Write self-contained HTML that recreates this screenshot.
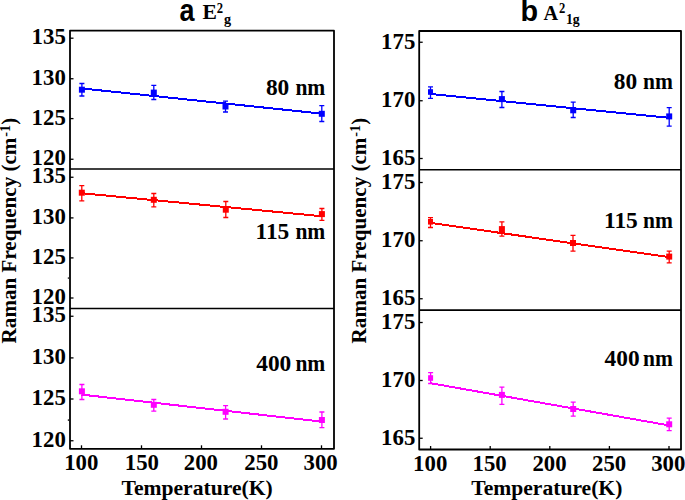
<!DOCTYPE html>
<html><head><meta charset="utf-8"><style>
html,body{margin:0;padding:0;background:#fff;width:685px;height:500px;overflow:hidden;}
svg{display:block;font-family:"Liberation Serif",serif;}
</style></head><body>
<svg width="685" height="500" viewBox="0 0 685 500">
<rect width="685" height="500" fill="#fff"/>
<line x1="81.5" y1="88.4" x2="321.5" y2="113.6" stroke="#0000ff" stroke-width="2" shape-rendering="crispEdges"/>
<path d="M81.9 83.5V96M79.4 83.5H84.4M79.4 96H84.4" stroke="#0000ff" stroke-width="1.3" fill="none"/>
<rect x="78.9" y="86.7" width="6" height="6" fill="#0000ff"/>
<path d="M153.8 85.4V99.5M151.3 85.4H156.3M151.3 99.5H156.3" stroke="#0000ff" stroke-width="1.3" fill="none"/>
<rect x="150.8" y="89.6" width="6" height="6" fill="#0000ff"/>
<path d="M225.5 101.2V112M223 101.2H228M223 112H228" stroke="#0000ff" stroke-width="1.3" fill="none"/>
<rect x="222.5" y="103.5" width="6" height="6" fill="#0000ff"/>
<path d="M321.8 105.6V121.5M319.3 105.6H324.3M319.3 121.5H324.3" stroke="#0000ff" stroke-width="1.3" fill="none"/>
<rect x="318.8" y="110.8" width="6" height="6" fill="#0000ff"/>
<line x1="81.5" y1="193.2" x2="321.5" y2="216.2" stroke="#ff0000" stroke-width="2" shape-rendering="crispEdges"/>
<path d="M81.8 185.6V200.8M79.3 185.6H84.3M79.3 200.8H84.3" stroke="#ff0000" stroke-width="1.3" fill="none"/>
<rect x="78.8" y="189.7" width="6" height="6" fill="#ff0000"/>
<path d="M153.8 193.5V206.9M151.3 193.5H156.3M151.3 206.9H156.3" stroke="#ff0000" stroke-width="1.3" fill="none"/>
<rect x="150.8" y="196.8" width="6" height="6" fill="#ff0000"/>
<path d="M225.8 201.5V217.5M223.3 201.5H228.3M223.3 217.5H228.3" stroke="#ff0000" stroke-width="1.3" fill="none"/>
<rect x="222.8" y="206.7" width="6" height="6" fill="#ff0000"/>
<path d="M321.9 208.5V220.4M319.4 208.5H324.4M319.4 220.4H324.4" stroke="#ff0000" stroke-width="1.3" fill="none"/>
<rect x="318.9" y="211.1" width="6" height="6" fill="#ff0000"/>
<line x1="81.5" y1="394.6" x2="321.5" y2="421.6" stroke="#ff00ff" stroke-width="2" shape-rendering="crispEdges"/>
<path d="M81.9 384.5V399.5M79.4 384.5H84.4M79.4 399.5H84.4" stroke="#ff00ff" stroke-width="1.3" fill="none"/>
<rect x="78.9" y="388.3" width="6" height="6" fill="#ff00ff"/>
<path d="M153.8 399.5V411.1M151.3 399.5H156.3M151.3 411.1H156.3" stroke="#ff00ff" stroke-width="1.3" fill="none"/>
<rect x="150.8" y="401.8" width="6" height="6" fill="#ff00ff"/>
<path d="M225.6 405.6V419M223.1 405.6H228.1M223.1 419H228.1" stroke="#ff00ff" stroke-width="1.3" fill="none"/>
<rect x="222.6" y="408.8" width="6" height="6" fill="#ff00ff"/>
<path d="M321.9 412V427.6M319.4 412H324.4M319.4 427.6H324.4" stroke="#ff00ff" stroke-width="1.3" fill="none"/>
<rect x="318.9" y="417" width="6" height="6" fill="#ff00ff"/>
<rect x="70" y="30.7" width="264" height="418.1" fill="none" stroke="#000" stroke-width="1.8" stroke-linejoin="round"/>
<line x1="70" y1="169" x2="334" y2="169" stroke="#000" stroke-width="1.6"/>
<line x1="70" y1="308.5" x2="334" y2="308.5" stroke="#000" stroke-width="1.6"/>
<line x1="70" y1="38.2" x2="73.5" y2="38.2" stroke="#000" stroke-width="1.3"/>
<line x1="70" y1="78.75" x2="73.5" y2="78.75" stroke="#000" stroke-width="1.3"/>
<line x1="70" y1="118.6" x2="73.5" y2="118.6" stroke="#000" stroke-width="1.3"/>
<line x1="70" y1="159.25" x2="73.5" y2="159.25" stroke="#000" stroke-width="1.3"/>
<line x1="70" y1="177.25" x2="73.5" y2="177.25" stroke="#000" stroke-width="1.3"/>
<line x1="70" y1="217.9" x2="73.5" y2="217.9" stroke="#000" stroke-width="1.3"/>
<line x1="70" y1="257.9" x2="73.5" y2="257.9" stroke="#000" stroke-width="1.3"/>
<line x1="70" y1="298" x2="73.5" y2="298" stroke="#000" stroke-width="1.3"/>
<line x1="70" y1="316.25" x2="73.5" y2="316.25" stroke="#000" stroke-width="1.3"/>
<line x1="70" y1="357.9" x2="73.5" y2="357.9" stroke="#000" stroke-width="1.3"/>
<line x1="70" y1="399" x2="73.5" y2="399" stroke="#000" stroke-width="1.3"/>
<line x1="70" y1="440.75" x2="73.5" y2="440.75" stroke="#000" stroke-width="1.3"/>
<line x1="81.5" y1="448.8" x2="81.5" y2="445.3" stroke="#000" stroke-width="1.3"/>
<line x1="141.5" y1="448.8" x2="141.5" y2="445.3" stroke="#000" stroke-width="1.3"/>
<line x1="201.5" y1="448.8" x2="201.5" y2="445.3" stroke="#000" stroke-width="1.3"/>
<line x1="261.5" y1="448.8" x2="261.5" y2="445.3" stroke="#000" stroke-width="1.3"/>
<line x1="321.5" y1="448.8" x2="321.5" y2="445.3" stroke="#000" stroke-width="1.3"/>
<g font-family="Liberation Serif, serif" font-weight="bold" font-size="22.8" fill="#000">
<text x="65.8" y="44.2" text-anchor="end">135</text>
<text x="65.8" y="84.75" text-anchor="end">130</text>
<text x="65.8" y="124.6" text-anchor="end">125</text>
<text x="65.8" y="165.25" text-anchor="end">120</text>
<text x="65.8" y="183.25" text-anchor="end">135</text>
<text x="65.8" y="223.9" text-anchor="end">130</text>
<text x="65.8" y="263.9" text-anchor="end">125</text>
<text x="65.8" y="304" text-anchor="end">120</text>
<text x="65.8" y="322.25" text-anchor="end">135</text>
<text x="65.8" y="363.9" text-anchor="end">130</text>
<text x="65.8" y="405" text-anchor="end">125</text>
<text x="65.8" y="446.75" text-anchor="end">120</text>
<text x="81.3" y="470.2" text-anchor="middle">100</text>
<text x="141.9" y="470.2" text-anchor="middle">150</text>
<text x="200.9" y="470.2" text-anchor="middle">200</text>
<text x="261.4" y="470.2" text-anchor="middle">250</text>
<text x="320.6" y="470.2" text-anchor="middle">300</text>
</g>
<g font-family="Liberation Serif, serif" font-weight="bold" font-size="23.4" fill="#000">
<text x="265.9" y="94.9">80</text><text x="295.4" y="94.9" textLength="29.9" lengthAdjust="spacingAndGlyphs">nm</text>
<text x="255.5" y="238.7">115</text><text x="295.4" y="238.7" textLength="29.9" lengthAdjust="spacingAndGlyphs">nm</text>
<text x="256.2" y="370.9">400</text><text x="295.4" y="370.9" textLength="29.9" lengthAdjust="spacingAndGlyphs">nm</text>
</g>
<line x1="430.6" y1="94" x2="669" y2="117.8" stroke="#0000ff" stroke-width="2" shape-rendering="crispEdges"/>
<path d="M430.5 86.9V98.3M428 86.9H433M428 98.3H433" stroke="#0000ff" stroke-width="1.3" fill="none"/>
<rect x="428" y="89.2" width="5" height="5.6" fill="#0000ff"/>
<path d="M501.9 91.5V107.5M499.4 91.5H504.4M499.4 107.5H504.4" stroke="#0000ff" stroke-width="1.3" fill="none"/>
<rect x="498.9" y="96.1" width="6" height="6" fill="#0000ff"/>
<path d="M573.2 102.1V117.5M570.7 102.1H575.7M570.7 117.5H575.7" stroke="#0000ff" stroke-width="1.3" fill="none"/>
<rect x="570.2" y="107.3" width="6" height="6" fill="#0000ff"/>
<path d="M669.2 107.6V126.1M666.7 107.6H671.7M666.7 126.1H671.7" stroke="#0000ff" stroke-width="1.3" fill="none"/>
<rect x="666.2" y="113.4" width="6" height="6" fill="#0000ff"/>
<line x1="430.6" y1="222.9" x2="669" y2="257.1" stroke="#ff0000" stroke-width="2" shape-rendering="crispEdges"/>
<path d="M430.5 217.6V227.5M428 217.6H433M428 227.5H433" stroke="#ff0000" stroke-width="1.3" fill="none"/>
<rect x="428" y="219" width="5" height="5.6" fill="#ff0000"/>
<path d="M501.9 221.9V236.1M499.4 221.9H504.4M499.4 236.1H504.4" stroke="#ff0000" stroke-width="1.3" fill="none"/>
<rect x="498.9" y="226.1" width="6" height="6" fill="#ff0000"/>
<path d="M573 235.3V251.2M570.5 235.3H575.5M570.5 251.2H575.5" stroke="#ff0000" stroke-width="1.3" fill="none"/>
<rect x="570" y="240" width="6" height="6" fill="#ff0000"/>
<path d="M669.2 251.2V262.8M666.7 251.2H671.7M666.7 262.8H671.7" stroke="#ff0000" stroke-width="1.3" fill="none"/>
<rect x="666.2" y="253.6" width="6" height="6" fill="#ff0000"/>
<line x1="430.6" y1="383.2" x2="669" y2="425.4" stroke="#ff00ff" stroke-width="2" shape-rendering="crispEdges"/>
<path d="M430.6 372.6V383.5M428.1 372.6H433.1M428.1 383.5H433.1" stroke="#ff00ff" stroke-width="1.3" fill="none"/>
<rect x="428.1" y="375.2" width="5" height="5.6" fill="#ff00ff"/>
<path d="M501.9 387.1V404.3M499.4 387.1H504.4M499.4 404.3H504.4" stroke="#ff00ff" stroke-width="1.3" fill="none"/>
<rect x="498.9" y="391.9" width="6" height="6" fill="#ff00ff"/>
<path d="M573.2 402.1V416.2M570.7 402.1H575.7M570.7 416.2H575.7" stroke="#ff00ff" stroke-width="1.3" fill="none"/>
<rect x="570.2" y="406" width="6" height="6" fill="#ff00ff"/>
<path d="M669.2 418.1V430.6M666.7 418.1H671.7M666.7 430.6H671.7" stroke="#ff00ff" stroke-width="1.3" fill="none"/>
<rect x="666.2" y="421.3" width="6" height="6" fill="#ff00ff"/>
<rect x="419.2" y="31" width="261.8" height="418.5" fill="none" stroke="#000" stroke-width="1.8" stroke-linejoin="round"/>
<line x1="419.2" y1="169.7" x2="681" y2="169.7" stroke="#000" stroke-width="1.6"/>
<line x1="419.2" y1="310.1" x2="681" y2="310.1" stroke="#000" stroke-width="1.6"/>
<line x1="419.2" y1="42.25" x2="422.7" y2="42.25" stroke="#000" stroke-width="1.3"/>
<line x1="419.2" y1="100.75" x2="422.7" y2="100.75" stroke="#000" stroke-width="1.3"/>
<line x1="419.2" y1="158.5" x2="422.7" y2="158.5" stroke="#000" stroke-width="1.3"/>
<line x1="419.2" y1="182.5" x2="422.7" y2="182.5" stroke="#000" stroke-width="1.3"/>
<line x1="419.2" y1="240.75" x2="422.7" y2="240.75" stroke="#000" stroke-width="1.3"/>
<line x1="419.2" y1="298.75" x2="422.7" y2="298.75" stroke="#000" stroke-width="1.3"/>
<line x1="419.2" y1="322.5" x2="422.7" y2="322.5" stroke="#000" stroke-width="1.3"/>
<line x1="419.2" y1="380.5" x2="422.7" y2="380.5" stroke="#000" stroke-width="1.3"/>
<line x1="419.2" y1="438.25" x2="422.7" y2="438.25" stroke="#000" stroke-width="1.3"/>
<line x1="430.6" y1="449.5" x2="430.6" y2="446" stroke="#000" stroke-width="1.3"/>
<line x1="490.2" y1="449.5" x2="490.2" y2="446" stroke="#000" stroke-width="1.3"/>
<line x1="549.8" y1="449.5" x2="549.8" y2="446" stroke="#000" stroke-width="1.3"/>
<line x1="609.4" y1="449.5" x2="609.4" y2="446" stroke="#000" stroke-width="1.3"/>
<line x1="669" y1="449.5" x2="669" y2="446" stroke="#000" stroke-width="1.3"/>
<g font-family="Liberation Serif, serif" font-weight="bold" font-size="22.8" fill="#000">
<text x="415.3" y="48.75" text-anchor="end">175</text>
<text x="415.3" y="107.25" text-anchor="end">170</text>
<text x="415.3" y="165" text-anchor="end">165</text>
<text x="415.3" y="189" text-anchor="end">175</text>
<text x="415.3" y="247.25" text-anchor="end">170</text>
<text x="415.3" y="305.25" text-anchor="end">165</text>
<text x="415.3" y="329" text-anchor="end">175</text>
<text x="415.3" y="387" text-anchor="end">170</text>
<text x="415.3" y="444.75" text-anchor="end">165</text>
<text x="430.2" y="470.8" text-anchor="middle">100</text>
<text x="489.6" y="470.8" text-anchor="middle">150</text>
<text x="549.5" y="470.8" text-anchor="middle">200</text>
<text x="609.1" y="470.8" text-anchor="middle">250</text>
<text x="668.3" y="470.8" text-anchor="middle">300</text>
</g>
<g font-family="Liberation Serif, serif" font-weight="bold" font-size="23.4" fill="#000">
<text x="613.8" y="89">80</text><text x="643.1" y="89" textLength="29.9" lengthAdjust="spacingAndGlyphs">nm</text>
<text x="604" y="227.5">115</text><text x="643.1" y="227.5" textLength="29.9" lengthAdjust="spacingAndGlyphs">nm</text>
<text x="604.5" y="365.6">400</text><text x="643.1" y="365.6" textLength="29.9" lengthAdjust="spacingAndGlyphs">nm</text>
</g>
<rect x="67.8" y="277.3" width="1.4" height="1.6" fill="#333"/><rect x="67.8" y="419.3" width="1.4" height="1.6" fill="#222"/>
<g font-family="Liberation Serif, serif" font-weight="bold" font-size="21.6" fill="#000">
<text x="197.1" y="495" text-anchor="middle">Temperature(K)</text>
<text x="546.8" y="495" text-anchor="middle">Temperature(K)</text>
<text transform="translate(16.1,230.6) rotate(-90)" text-anchor="middle" font-size="21.1">Raman Frequency (cm<tspan font-size="14.2" dx="0.9" dy="-6">-1</tspan><tspan dy="6">)</tspan></text>
<text transform="translate(365.8,230.6) rotate(-90)" text-anchor="middle" font-size="21.1">Raman Frequency (cm<tspan font-size="14.2" dx="0.9" dy="-6">-1</tspan><tspan dy="6">)</tspan></text>
</g>
<text x="179.6" y="20.5" font-family="Liberation Sans, sans-serif" font-weight="bold" font-size="30.5" textLength="15.0" lengthAdjust="spacingAndGlyphs">a</text>
<text x="520.6" y="20.6" font-family="Liberation Sans, sans-serif" font-weight="bold" font-size="30" textLength="17.6" lengthAdjust="spacingAndGlyphs">b</text>
<text x="202.6" y="19.2" font-family="Liberation Serif, serif" font-weight="bold" font-size="21.6">E</text>
<text x="216.7" y="12.6" font-family="Liberation Serif, serif" font-weight="bold" font-size="14.2" textLength="6.3" lengthAdjust="spacingAndGlyphs">2</text>
<text x="223.9" y="24.0" font-family="Liberation Serif, serif" font-weight="bold" font-size="14.2" textLength="7.1" lengthAdjust="spacingAndGlyphs">g</text>
<text x="543.4" y="19.6" font-family="Liberation Serif, serif" font-weight="bold" font-size="21.2" textLength="14.6" lengthAdjust="spacingAndGlyphs">A</text>
<text x="558.9" y="12.6" font-family="Liberation Serif, serif" font-weight="bold" font-size="14.2" textLength="6.3" lengthAdjust="spacingAndGlyphs">2</text>
<text x="565.9" y="24.0" font-family="Liberation Serif, serif" font-weight="bold" font-size="14.2" textLength="13.8" lengthAdjust="spacingAndGlyphs">1g</text>
</svg>
</body></html>
